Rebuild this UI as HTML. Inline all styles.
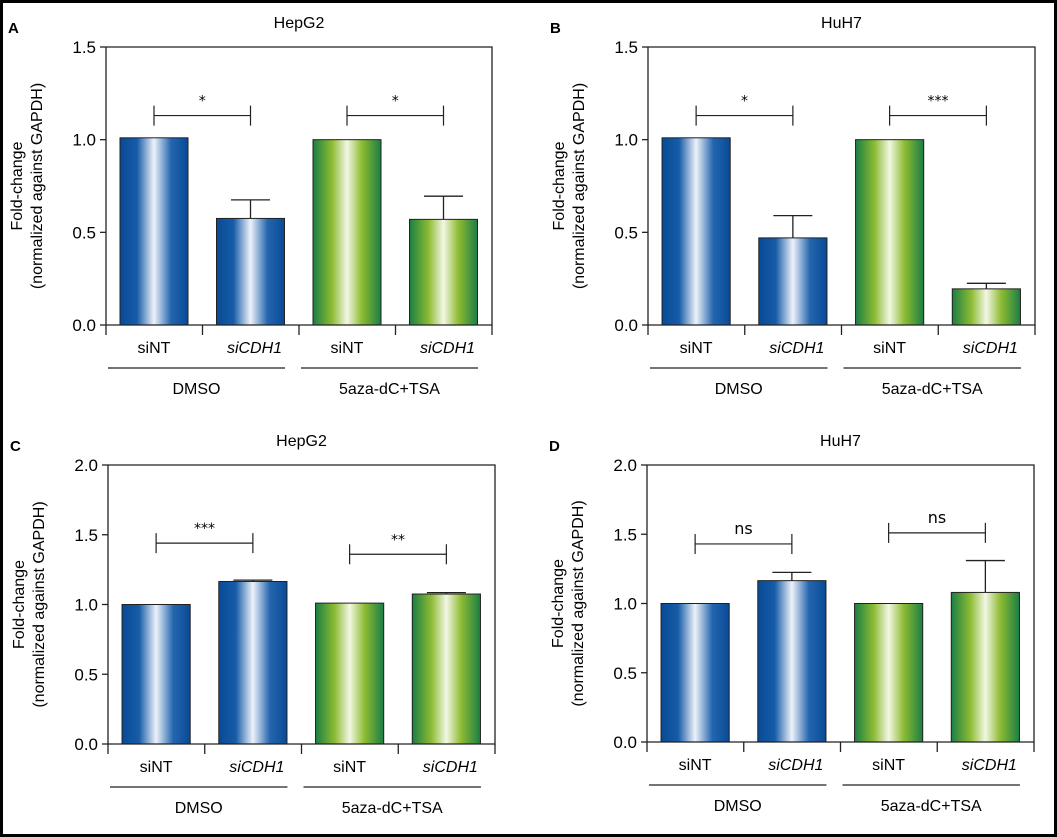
<!DOCTYPE html>
<html><head><meta charset="utf-8"><style>
html,body{margin:0;padding:0;background:#fff}
svg{display:block;font-family:"Liberation Sans Narrow","Liberation Sans",sans-serif}
</style></head><body>
<svg id="fig" width="1057" height="837" viewBox="0 0 1057 837">
<defs>
<linearGradient id="gBlue" x1="0" x2="1" y1="0" y2="0">
<stop offset="0" stop-color="#084a96"/><stop offset="0.25" stop-color="#175ca8"/><stop offset="0.5" stop-color="#eef2fa"/><stop offset="0.75" stop-color="#2466ae"/><stop offset="1" stop-color="#084a96"/></linearGradient>
<linearGradient id="gGreen" x1="0" x2="1" y1="0" y2="0">
<stop offset="0" stop-color="#1b7e45"/><stop offset="0.28" stop-color="#8dbb32"/><stop offset="0.5" stop-color="#f2f7e4"/><stop offset="0.72" stop-color="#8dbb32"/><stop offset="1" stop-color="#1b7e45"/></linearGradient>
</defs>
<rect x="1.5" y="1.5" width="1054" height="834" fill="none" stroke="#000" stroke-width="3"/>
</svg>
<script>
const categories = ["siNT","siCDH1","siNT","siCDH1"];
const groups = ["DMSO","5aza-dC+TSA"];
const valuesA = [1.01,0.575,1.0,0.57];
const errorsA = [0,0.10,0,0.125];
const sigA = ["*","*"];
const valuesB = [1.01,0.47,1.0,0.195];
const errorsB = [0,0.12,0,0.03];
const sigB = ["*","***"];
const valuesC = [1.0,1.165,1.01,1.075];
const errorsC = [0,0.01,0,0.01];
const sigC = ["***","**"];
const valuesD = [1.0,1.165,1.0,1.08];
const errorsD = [0,0.06,0,0.23];
const sigD = ["ns","ns"];
const ticks15 = ["0.0","0.5","1.0","1.5"];
const ticks20 = ["0.0","0.5","1.0","1.5","2.0"];
const sigLevelsA = [1.13,1.13];
const sigLevelsB = [1.13,1.13];
const sigLevelsC = [1.44,1.36];
const sigLevelsD = [1.43,1.51];

const NS="http://www.w3.org/2000/svg";
const svg=document.getElementById('fig');
function mk(tag,attrs,parent,text){const e=document.createElementNS(NS,tag);for(const k in attrs)e.setAttribute(k,attrs[k]);if(text!==undefined)e.textContent=text;(parent||svg).appendChild(e);return e;}

function panel(p){
  const g=mk('g',{});
  
  
  const L=p.L,R=p.R,T=p.T,B=p.B,W=R-L;
  const ymax=parseFloat(p.ticks[p.ticks.length-1]);
  const y=v=>B-(v/ymax)*(B-T);
  const slot=W/4, bw=W*68/386, off=W*14/386;
  const bx=i=>L+slot*i+off;
  const cx=i=>bx(i)+bw/2;
  const lt=mk('text',{x:p.L-98,y:p.T-14,'font-size':15,'font-weight':'bold','font-family':'Liberation Sans,sans-serif'},g,p.letter);
  
  
  const tt=mk('text',{x:(L+R)/2,y:p.T-19,'font-size':16,'text-anchor':'middle'},g,p.title);
  
  
  p.values.forEach((v,i)=>{
    const r=mk('rect',{x:bx(i),y:y(v),width:bw,height:B-y(v),fill:i<2?'url(#gBlue)':'url(#gGreen)',stroke:'#222','stroke-width':1},g);
    
    
    const e=p.errors[i];
    if(e>0){
      const el=mk('path',{d:`M${cx(i)} ${y(v)}V${y(v+e)}M${cx(i)-19.5} ${y(v+e)}H${cx(i)+19.5}`,stroke:'#222','stroke-width':1.3,fill:'none'},g);
      
      
    }
  });
  const ax=mk('path',{d:`M${L} ${T}V${B}H${R}V${T}H${L}`,stroke:'#222','stroke-width':1.3,fill:'none'},g);
  
  
  p.ticks.forEach(t=>{
    const yy=y(parseFloat(t));
    mk('line',{x1:L-6,x2:L,y1:yy,y2:yy,stroke:'#222','stroke-width':1.3},g);
    const tl=mk('text',{x:L-10,y:yy+6,'font-size':17,'text-anchor':'end'},g,t);
    
    
  });
  for(let i=0;i<=4;i++) mk('line',{x1:L+slot*i,x2:L+slot*i,y1:B,y2:B+10,stroke:'#222','stroke-width':1.3},g);
  categories.forEach((c,i)=>{
    const t=mk('text',{x:cx(i)+(i%2?4:0),y:B+28,'font-size':16,'text-anchor':'middle','font-style':i%2?'italic':'normal'},g,c);
    
    
  });
  groups.forEach((gn,k)=>{
    const x0=L+2+k*slot*2, x1=L+slot*2*(k+1)-off;
    mk('line',{x1:x0,x2:x1,y1:B+43,y2:B+43,stroke:'#222','stroke-width':1.2},g);
    const t=mk('text',{x:(x0+x1)/2,y:B+69,'font-size':16,'text-anchor':'middle'},g,gn);
    
    
  });
  p.sig.forEach((s,k)=>{
    const a=cx(2*k),b=cx(2*k+1),yy=y(p.sigLevels[k]);
    const br=mk('path',{d:`M${a} ${yy-10}V${yy+10}M${a} ${yy}H${b}M${b} ${yy-10}V${yy+10}`,stroke:'#222','stroke-width':1.2,fill:'none'},g);
    
    
    const st=mk('text',{x:(a+b)/2,y:yy-10,'font-size':s==='ns'?16:14,'text-anchor':'middle','font-family':'DejaVu Sans,sans-serif'},g,s);
    
    
  });
  const yl=mk('text',{transform:`translate(${L-84},${(T+B)/2}) rotate(-90)`,'font-size':16,'text-anchor':'middle'},g);
  
  
  mk('tspan',{x:0,y:0},yl,'Fold-change');
  mk('tspan',{x:0,y:20},yl,'(normalized against GAPDH)');
}
panel({letter:'A',title:'HepG2',L:106,R:492,T:47,B:325,ticks:ticks15,values:valuesA,errors:errorsA,sig:sigA,sigLevels:sigLevelsA});
panel({letter:'B',title:'HuH7',L:648,R:1035,T:47,B:325,ticks:ticks15,values:valuesB,errors:errorsB,sig:sigB,sigLevels:sigLevelsB});
panel({letter:'C',title:'HepG2',L:108,R:495,T:465,B:744,ticks:ticks20,values:valuesC,errors:errorsC,sig:sigC,sigLevels:sigLevelsC});
panel({letter:'D',title:'HuH7',L:647,R:1034,T:465,B:742,ticks:ticks20,values:valuesD,errors:errorsD,sig:sigD,sigLevels:sigLevelsD});
</script>
</body></html>
